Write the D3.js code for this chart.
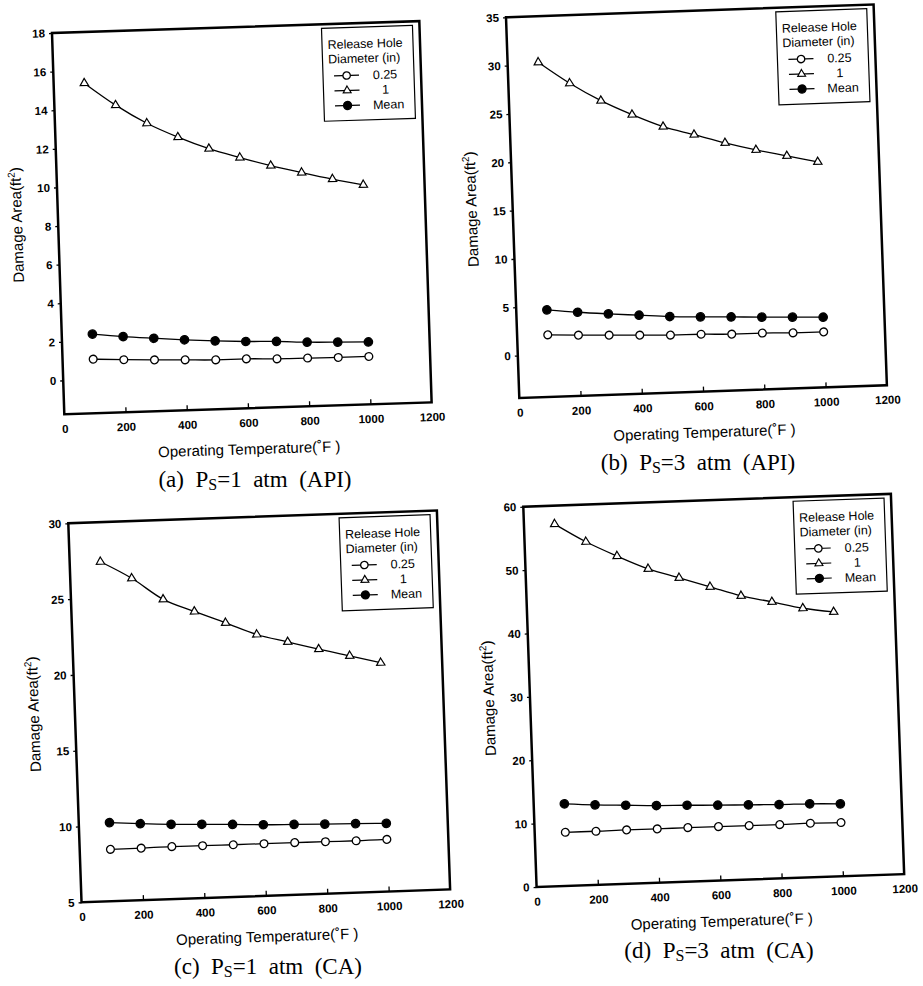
<!DOCTYPE html>
<html>
<head>
<meta charset="utf-8">
<script src="https://cdn.jsdelivr.net/npm/d3@7/dist/d3.min.js"></script>
<style>
  html, body { margin: 0; padding: 0; background: #fff; }
  svg { display: block; }
</style>
</head>
<body>
<script>
// ---------- data ----------
const temps = [100, 200, 300, 400, 500, 600, 700, 800, 900, 1000];
const xTicks = [0, 200, 400, 600, 800, 1000, 1200];
const seriesNames = ["0.25", "1", "Mean"];

// (a) Ps = 1 atm (API)
const aYTicks = [0, 2, 4, 6, 8, 10, 12, 14, 16, 18];
const aD025 = [1.05, 0.97, 0.91, 0.86, 0.81, 0.81, 0.76, 0.75, 0.73, 0.73];
const aD1   = [15.35, 14.16, 13.17, 12.40, 11.75, 11.24, 10.77, 10.36, 9.97, 9.62];
const aMean = [2.35, 2.17, 2.03, 1.90, 1.79, 1.71, 1.66, 1.57, 1.52, 1.48];

// (b) Ps = 3 atm (API)
const bYTicks = [0, 5, 10, 15, 20, 25, 30, 35];
const bD025 = [2.03, 1.89, 1.78, 1.67, 1.56, 1.54, 1.44, 1.44, 1.35, 1.34];
const bD1   = [30.23, 27.95, 26.04, 24.48, 23.13, 22.19, 21.23, 20.39, 19.66, 18.93];
const bMean = [4.61, 4.26, 3.98, 3.73, 3.48, 3.34, 3.22, 3.09, 2.98, 2.86];

// (c) Ps = 1 atm (CA)
const cYTicks = [5, 10, 15, 20, 25, 30];
const cD025 = [8.42, 8.43, 8.46, 8.45, 8.44, 8.44, 8.44, 8.43, 8.42, 8.44];
const cD1   = [27.39, 26.23, 24.77, 23.90, 23.08, 22.24, 21.68, 21.13, 20.62, 20.09];
const cMean = [10.18, 10.04, 9.93, 9.86, 9.78, 9.69, 9.64, 9.59, 9.55, 9.50];

// (d) Ps = 3 atm (CA)
const dYTicks = [0, 10, 20, 30, 40, 50, 60];
const dD025 = [8.46, 8.45, 8.50, 8.49, 8.52, 8.51, 8.50, 8.49, 8.54, 8.48];
const dD1   = [57.09, 54.13, 51.70, 49.52, 47.93, 46.34, 44.75, 43.63, 42.46, 41.71];
const dMean = [12.95, 12.62, 12.39, 12.17, 12.05, 11.89, 11.78, 11.65, 11.60, 11.43];

const captions = [
  { tag: "(a)", p: "1", src: "(API)" },
  { tag: "(b)", p: "3", src: "(API)" },
  { tag: "(c)", p: "1", src: "(CA)" },
  { tag: "(d)", p: "3", src: "(CA)" }
];

// ---------- layout ----------
const W = 923, H = 986;
const SANS = "'Liberation Sans', Arial, Helvetica, sans-serif";
const SERIF = "'Liberation Serif', 'Times New Roman', serif";

const panels = [
  { tx: 52,    ty: 33,    rot: -1.85, w: 367.5, h: 381.4, yDomain: [-1.75, 18], yTicks: aYTicks,
    data: [aD025, aD1, aMean], cap: captions[0], capX: 255, capY: 487 },
  { tx: 506,   ty: 17.3,  rot: -2.0,  w: 367.8, h: 381.0, yDomain: [-4.4, 35],  yTicks: bYTicks,
    data: [bD025, bD1, bMean], cap: captions[1], capX: 698, capY: 469.5 },
  { tx: 68.3,  ty: 523.3, rot: -2.0,  w: 368.8, h: 379.2, yDomain: [5, 30],     yTicks: cYTicks,
    data: [cD025, cD1, cMean], cap: captions[2], capX: 268, capY: 974 },
  { tx: 523.3, ty: 506.7, rot: -2.0,  w: 367.8, h: 380.5, yDomain: [0, 60],     yTicks: dYTicks,
    data: [dD025, dD1, dMean], cap: captions[3], capX: 719, capY: 958 }
];

const svg = d3.select("body").append("svg")
  .attr("width", W).attr("height", H)
  .attr("viewBox", `0 0 ${W} ${H}`);
svg.append("rect").attr("width", W).attr("height", H).attr("fill", "#fff");

const triSym = d3.symbol().type(d3.symbolTriangle).size(30);
const markerStyles = [
  { kind: "circle", fill: "#fff", r: 3.9 },
  { kind: "triangle", fill: "#fff" },
  { kind: "circle", fill: "#000", r: 4.2 }
];

function drawMarker(sel, style, scale) {
  if (style.kind === "circle") {
    sel.append("circle").attr("r", style.r * scale)
      .attr("fill", style.fill).attr("stroke", "#000").attr("stroke-width", 1.3);
  } else {
    sel.append("path").attr("d", triSym()).attr("transform", `scale(${scale})`)
      .attr("fill", style.fill).attr("stroke", "#000").attr("stroke-width", 1.2);
  }
}

panels.forEach(p => {
  const g = svg.append("g")
    .attr("transform", `translate(${p.tx},${p.ty}) rotate(${p.rot})`);

  const x = d3.scaleLinear().domain([0, 1200]).range([0, p.w]);
  const y = d3.scaleLinear().domain(p.yDomain).range([p.h, 0]);

  // axes
  const ya = g.append("g").call(
    d3.axisLeft(y).tickValues(p.yTicks).tickSize(3).tickPadding(4).tickFormat(d3.format("d"))
  );
  const xa = g.append("g").attr("transform", `translate(0,${p.h})`).call(
    d3.axisBottom(x).tickValues(xTicks).tickSizeInner(-5).tickSizeOuter(0).tickPadding(10.5).tickFormat(d3.format("d"))
  );
  [ya, xa].forEach(a => {
    a.select(".domain").remove();
    a.selectAll("line").attr("stroke", "#000").attr("stroke-width", 1.3);
    a.selectAll("text").attr("fill", "#000").attr("font-family", SANS)
      .attr("font-size", 11.5).attr("font-weight", "bold");
  });
  xa.selectAll(".tick").filter(d => d === 0 || d === 1200).select("line").remove();

  // frame
  g.append("rect").attr("x", 0).attr("y", 0).attr("width", p.w).attr("height", p.h)
    .attr("fill", "none").attr("stroke", "#000").attr("stroke-width", 2.5);

  // axis titles
  g.append("text")
    .attr("x", p.w / 2).attr("y", p.h + 46)
    .attr("text-anchor", "middle").attr("font-family", SANS).attr("font-size", 15)
    .text("Operating Temperature(\u02DAF )");

  const yt = g.append("text")
    .attr("transform", `translate(-36,${p.h / 2}) rotate(-90)`)
    .attr("text-anchor", "middle").attr("font-family", SANS).attr("font-size", 15);
  yt.append("tspan").text("Damage Area(ft");
  yt.append("tspan").attr("font-size", 10).attr("dy", -6).text("2");
  yt.append("tspan").attr("dy", 6).text(")");

  // series
  const line = d3.line().x((d, i) => x(temps[i])).y(d => y(d)).curve(d3.curveMonotoneX);
  p.data.forEach(vals => {
    g.append("path").datum(vals).attr("d", line)
      .attr("fill", "none").attr("stroke", "#000").attr("stroke-width", 1.3);
  });
  p.data.forEach((vals, si) => {
    const st = markerStyles[si];
    vals.forEach((v, i) => {
      const m = g.append("g").attr("transform", `translate(${x(temps[i])},${y(v)})`);
      drawMarker(m, st, 1);
    });
  });

  // legend
  const lx = p.w - 98, ly = 4, lw = 91, lh = 93;
  const lg = g.append("g").attr("transform", `translate(${lx},${ly})`);
  lg.append("rect").attr("width", lw).attr("height", lh)
    .attr("fill", "#fff").attr("stroke", "#000").attr("stroke-width", 1.2);
  lg.append("text").attr("x", 5.5).attr("y", 21).attr("font-family", SANS).attr("font-size", 12.5)
    .text("Release Hole");
  lg.append("text").attr("x", 5.5).attr("y", 35.5).attr("font-family", SANS).attr("font-size", 12.5)
    .text("Diameter (in)");
  seriesNames.forEach((name, si) => {
    const cy = 48 + si * 15;
    lg.append("line").attr("x1", 11).attr("x2", 36).attr("y1", cy).attr("y2", cy)
      .attr("stroke", "#000").attr("stroke-width", 1.2);
    const m = lg.append("g").attr("transform", `translate(23.6,${cy})`);
    drawMarker(m, markerStyles[si], 0.95);
    lg.append("text").attr("x", si === 2 ? 49 : 62).attr("y", cy + 4.5)
      .attr("text-anchor", si === 2 ? "start" : "middle")
      .attr("font-family", SANS).attr("font-size", 12.5).text(name);
  });

  // caption
  const ct = svg.append("text").attr("x", p.capX).attr("y", p.capY)
    .attr("text-anchor", "middle").attr("font-family", SERIF).attr("font-size", 23);
  ct.append("tspan").text(p.cap.tag + "\u00a0\u00a0P");
  ct.append("tspan").attr("font-size", 16).attr("dy", 3).text("S");
  ct.append("tspan").attr("dy", -3).text("=" + p.cap.p + "\u00a0\u00a0atm\u00a0\u00a0" + p.cap.src);
});
</script>
</body>
</html>
